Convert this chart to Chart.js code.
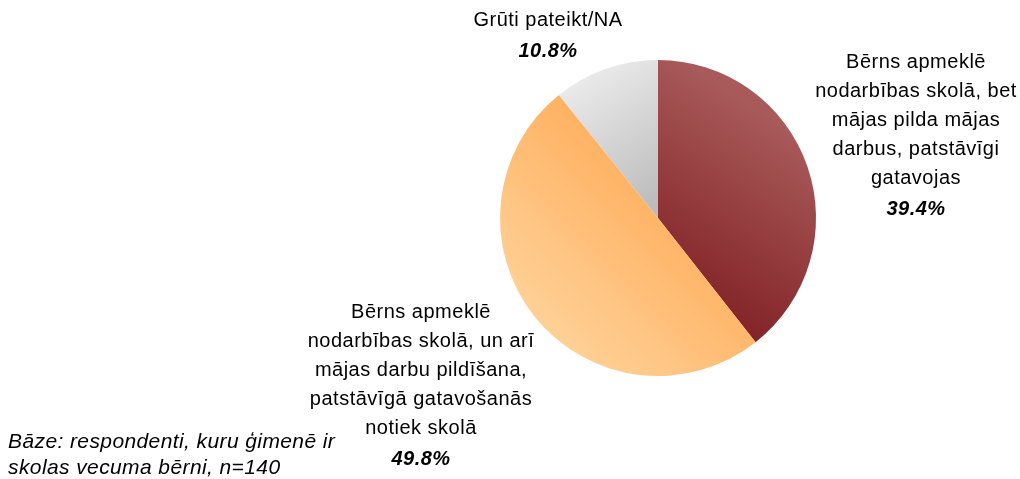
<!DOCTYPE html>
<html>
<head>
<meta charset="utf-8">
<script src="https://cdn.jsdelivr.net/npm/chart.js@4"></script>
<style>
  html, body { margin: 0; padding: 0; background: #fff; }
  #wrap { width: 1020px; height: 479px; position: relative; }
</style>
</head>
<body>
<div id="wrap"><canvas id="pieChart" width="1020" height="479"></canvas></div>
<script>
// Chart data
const categories = [
    ["Bērns apmeklē", "nodarbības skolā, bet", "mājas pilda mājas", "darbus, patstāvīgi", "gatavojas"],
    ["Bērns apmeklē", "nodarbības skolā, un arī", "mājas darbu pildīšana,", "patstāvīgā gatavošanās", "notiek skolā"],
    ["Grūti pateikt/NA"]
];
const values = [39.4, 49.8, 10.8];
const footnote = ["Bāze: respondenti, kuru ģimenē ir", "skolas vecuma bērni, n=140"];

// gradient stops per slice (dark / light) and direction in units of radius
const sliceColors = [
    { from: [0.1, 0.7], to: [0.9, -0.5], c0: "#7c1a1f", c1: "#a85959" },
    { from: [0.3, -0.2], to: [-0.9, 1.0], c0: "#ffab57", c1: "#ffdaa6" },
    { from: [-0.6, -1.0], to: [0.0, -0.1], c0: "#f2f2f2", c1: "#bcbcbc" }
];

// label anchors relative to the pie centre
const labelOffsets = [[258, -156], [-237, 94], [-110, -198]];

const ctx = document.getElementById('pieChart').getContext('2d');

function sliceFill(context) {
    const chart = context.chart;
    const area = chart.chartArea;
    const s = sliceColors[context.dataIndex];
    if (!area) return s.c0;
    const cx = (area.left + area.right) / 2;
    const cy = (area.top + area.bottom) / 2;
    const r = Math.min(area.width, area.height) / 2;
    const g = chart.ctx.createLinearGradient(cx + s.from[0] * r, cy + s.from[1] * r, cx + s.to[0] * r, cy + s.to[1] * r);
    g.addColorStop(0, s.c0);
    g.addColorStop(1, s.c1);
    return g;
}

// draws the slice labels and the footnote
const labelPlugin = {
    id: 'sliceLabels',
    afterDraw(chart) {
        const c = chart.ctx;
        const meta = chart.getDatasetMeta(0);
        const arc = meta.data[0];
        const cx = arc.x, cy = arc.y;
        const lineH = 29;
        c.save();
        c.fillStyle = '#000';
        c.textAlign = 'center';
        c.textBaseline = 'middle';
        c.letterSpacing = '0.5px';
        categories.forEach((lines, i) => {
            const x = cx + labelOffsets[i][0];
            let y = cy + labelOffsets[i][1];
            c.font = '20px "Liberation Sans", Arial, sans-serif';
            lines.forEach(line => {
                c.fillText(line, x, y);
                y += lineH;
            });
            c.font = 'italic bold 20px "Liberation Sans", Arial, sans-serif';
            c.fillText(values[i].toFixed(1) + '%', x, y + 2);
        });
        c.textAlign = 'left';
        c.letterSpacing = '0.4px';
        c.font = 'italic 21px "Liberation Sans", Arial, sans-serif';
        footnote.forEach((line, i) => {
            c.fillText(line, 8, 442 + i * 26);
        });
        c.restore();
    }
};

new Chart(ctx, {
    type: 'pie',
    data: {
        labels: categories.map(l => l.join(' ')),
        datasets: [{
            data: values,
            backgroundColor: sliceFill,
            borderWidth: 0
        }]
    },
    options: {
        responsive: false,
        animation: false,
        layout: {
            padding: { left: 500, right: 204, top: 60, bottom: 103 }
        },
        plugins: {
            legend: { display: false },
            tooltip: { enabled: false }
        }
    },
    plugins: [labelPlugin]
});
</script>
</body>
</html>
